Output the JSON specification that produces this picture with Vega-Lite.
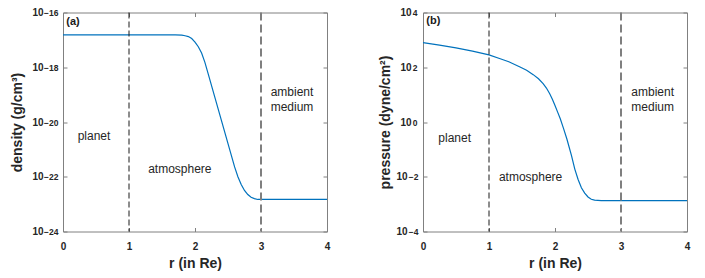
{
  "$schema": "https://vega.github.io/schema/vega-lite/v6.json",
  "padding": {"left": 10, "top": 7.5, "right": 18, "bottom": 5},
  "spacing": 96,
  "bounds": "flush",
  "datasets": {
    "density": [
      {"r": 0, "v": 1.514e-17}, {"r": 1.0, "v": 1.514e-17}, {"r": 1.7, "v": 1.514e-17},
      {"r": 1.8, "v": 1.479e-17}, {"r": 1.85, "v": 1.413e-17}, {"r": 1.9, "v": 1.318e-17},
      {"r": 1.95, "v": 1.122e-17}, {"r": 2.0, "v": 8.318e-18}, {"r": 2.05, "v": 5.623e-18},
      {"r": 2.1, "v": 3.311e-18}, {"r": 2.15, "v": 1.514e-18}, {"r": 2.2, "v": 5.754e-19},
      {"r": 2.3, "v": 8.128e-20}, {"r": 2.4, "v": 1.148e-20}, {"r": 2.5, "v": 1.622e-21},
      {"r": 2.6, "v": 2.291e-22}, {"r": 2.65, "v": 1e-22}, {"r": 2.7, "v": 5.248e-23},
      {"r": 2.75, "v": 3.162e-23}, {"r": 2.8, "v": 2.239e-23}, {"r": 2.85, "v": 1.778e-23},
      {"r": 2.9, "v": 1.585e-23}, {"r": 2.95, "v": 1.479e-23}, {"r": 3.0, "v": 1.479e-23},
      {"r": 4.0, "v": 1.479e-23}
    ],
    "pressure": [
      {"r": 0, "v": 794.3}, {"r": 0.25, "v": 645.7}, {"r": 0.5, "v": 512.9},
      {"r": 0.75, "v": 389.0}, {"r": 1.0, "v": 281.8}, {"r": 1.17, "v": 204.2},
      {"r": 1.3, "v": 158.5}, {"r": 1.47, "v": 102.3}, {"r": 1.57, "v": 77.6},
      {"r": 1.67, "v": 53.7}, {"r": 1.75, "v": 38.0}, {"r": 1.82, "v": 25.1},
      {"r": 1.87, "v": 17.4}, {"r": 1.92, "v": 10.7}, {"r": 1.96, "v": 6.76},
      {"r": 2.0, "v": 3.98}, {"r": 2.04, "v": 2.29}, {"r": 2.08, "v": 1.318},
      {"r": 2.13, "v": 0.575}, {"r": 2.18, "v": 0.24}, {"r": 2.25, "v": 0.0589},
      {"r": 2.3, "v": 0.0191}, {"r": 2.35, "v": 0.00794}, {"r": 2.4, "v": 0.00398},
      {"r": 2.45, "v": 0.00251}, {"r": 2.5, "v": 0.00182}, {"r": 2.55, "v": 0.00151},
      {"r": 2.6, "v": 0.0014}, {"r": 2.7, "v": 0.00135}, {"r": 4.0, "v": 0.00135}
    ],
    "labelsA": [
      {"r": 0.47, "v": 3.16e-21, "t": "planet"},
      {"r": 1.77, "v": 2.0e-22, "t": "atmosphere"},
      {"r": 3.47, "v": 1.2e-19, "t": "ambient"},
      {"r": 3.47, "v": 3.4e-20, "t": "medium"}
    ],
    "labelsB": [
      {"r": 0.48, "v": 0.263, "t": "planet"},
      {"r": 1.63, "v": 0.01, "t": "atmosphere"},
      {"r": 3.48, "v": 12.6, "t": "ambient"},
      {"r": 3.48, "v": 3.55, "t": "medium"}
    ],
    "tagA": [{"r": 0.05, "v": 4.4e-17, "t": "(a)"}],
    "tagB": [{"r": 0.05, "v": 4786, "t": "(b)"}],
    "line1": [{"r": 1}],
    "line3": [{"r": 3}]
  },
  "hconcat": [
    {
      "width": 264,
      "height": 219,
      "layer": [
        {
          "data": {"name": "density"},
          "mark": {"type": "line", "color": "#0072BD", "strokeWidth": 1.2},
          "encoding": {
            "x": {"field": "r", "type": "quantitative", "scale": {"domain": [0, 4], "nice": false},
                  "axis": {"orient": "bottom", "values": [0, 1, 2, 3, 4], "title": "r (in Re)", "labelPadding": 14, "titlePadding": 5}},
            "y": {"field": "v", "type": "quantitative", "scale": {"type": "log", "domain": [1e-24, 1e-16], "nice": false},
                  "axis": {"orient": "left", "values": [1e-24, 1e-22, 1e-20, 1e-18, 1e-16], "labelExpr": "'10'", "labelFontSize": 10, "labelPadding": 24, "labelDy": 3, "title": "density (g/cm³)", "titlePadding": 7}}
          }
        },
        {
          "data": {"name": "line1"},
          "mark": {"type": "rule", "color": "#1a1a1a", "strokeDash": [6, 3], "strokeWidth": 1},
          "encoding": {"x": {"field": "r", "type": "quantitative", "axis": null}}
        },
        {
          "data": {"name": "line3"},
          "mark": {"type": "rule", "color": "#7f7f7f", "strokeDash": [8, 4], "strokeWidth": 2},
          "encoding": {"x": {"field": "r", "type": "quantitative", "axis": null}}
        },
        {
          "data": {"name": "labelsA"},
          "mark": {"type": "text", "fontSize": 12, "color": "#262626"},
          "encoding": {
            "x": {"field": "r", "type": "quantitative", "axis": {"orient": "top", "values": [0, 1, 2, 3, 4], "labels": false, "title": null}},
            "y": {"field": "v", "type": "quantitative", "axis": {"orient": "right", "values": [1e-24, 1e-22, 1e-20, 1e-18, 1e-16], "labels": false, "title": null}},
            "text": {"field": "t"}
          }
        },
        {
          "data": {"name": "tagA"},
          "mark": {"type": "text", "fontSize": 11, "fontWeight": "bold", "align": "left", "color": "#1a1a1a"},
          "encoding": {
            "x": {"field": "r", "type": "quantitative", "axis": null},
            "y": {"field": "v", "type": "quantitative", "axis": {"orient": "left", "values": [1e-24, 1e-22, 1e-20, 1e-18, 1e-16], "labelExpr": "datum.value < 1e-23 ? '−24' : datum.value < 1e-21 ? '−22' : datum.value < 1e-19 ? '−20' : datum.value < 1e-17 ? '−18' : '−16'", "labelFontSize": 8.5, "labelPadding": 5, "labelDy": -2, "ticks": false, "domain": false, "title": null}},
            "text": {"field": "t"}
          }
        }
      ],
      "resolve": {"axis": {"x": "independent", "y": "independent"}}
    },
    {
      "width": 264,
      "height": 219,
      "layer": [
        {
          "data": {"name": "pressure"},
          "mark": {"type": "line", "color": "#0072BD", "strokeWidth": 1.2},
          "encoding": {
            "x": {"field": "r", "type": "quantitative", "scale": {"domain": [0, 4], "nice": false},
                  "axis": {"orient": "bottom", "values": [0, 1, 2, 3, 4], "title": "r (in Re)", "labelPadding": 14, "titlePadding": 5}},
            "y": {"field": "v", "type": "quantitative", "scale": {"type": "log", "domain": [1e-4, 1e4], "nice": false},
                  "axis": {"orient": "left", "values": [1e-4, 1e-2, 1, 100, 10000], "labelExpr": "'10'", "labelFontSize": 10, "labelPadding": {"condition": {"test": "datum.value < 0.1", "value": 20}, "value": 16}, "labelDy": 3, "title": "pressure (dyne/cm²)", "titlePadding": 3}}
          }
        },
        {
          "data": {"name": "line1"},
          "mark": {"type": "rule", "color": "#1a1a1a", "strokeDash": [6, 3], "strokeWidth": 1},
          "encoding": {"x": {"field": "r", "type": "quantitative", "axis": null}}
        },
        {
          "data": {"name": "line3"},
          "mark": {"type": "rule", "color": "#7f7f7f", "strokeDash": [8, 4], "strokeWidth": 2},
          "encoding": {"x": {"field": "r", "type": "quantitative", "axis": null}}
        },
        {
          "data": {"name": "labelsB"},
          "mark": {"type": "text", "fontSize": 12, "color": "#262626"},
          "encoding": {
            "x": {"field": "r", "type": "quantitative", "axis": {"orient": "top", "values": [0, 1, 2, 3, 4], "labels": false, "title": null}},
            "y": {"field": "v", "type": "quantitative", "axis": {"orient": "right", "values": [1e-4, 1e-2, 1, 100, 10000], "labels": false, "title": null}},
            "text": {"field": "t"}
          }
        },
        {
          "data": {"name": "tagB"},
          "mark": {"type": "text", "fontSize": 11, "fontWeight": "bold", "align": "left", "color": "#1a1a1a"},
          "encoding": {
            "x": {"field": "r", "type": "quantitative", "axis": null},
            "y": {"field": "v", "type": "quantitative", "axis": {"orient": "left", "values": [1e-4, 1e-2, 1, 100, 10000], "labelExpr": "datum.value < 1e-3 ? '−4' : datum.value < 0.1 ? '−2' : datum.value < 10 ? '0' : datum.value < 1000 ? '2' : '4'", "labelFontSize": 8.5, "labelPadding": {"condition": {"test": "datum.value < 0.1", "value": 5}, "value": 6}, "labelDy": -2, "ticks": false, "domain": false, "title": null}},
            "text": {"field": "t"}
          }
        }
      ],
      "resolve": {"axis": {"x": "independent", "y": "independent"}}
    }
  ],
  "config": {
    "font": "Liberation Sans",
    "view": {"stroke": null},
    "axis": {
      "domainColor": "#808080",
      "tickColor": "#808080",
      "labelColor": "#262626",
      "titleColor": "#262626",
      "labelFontSize": 10,
      "labelFontWeight": "bold",
      "titleFontSize": 14,
      "titleFontWeight": "bold",
      "grid": false,
      "labelFlush": false,
      "tickSize": -4,
      "domainWidth": 1,
      "tickWidth": 1
    }
  }
}
